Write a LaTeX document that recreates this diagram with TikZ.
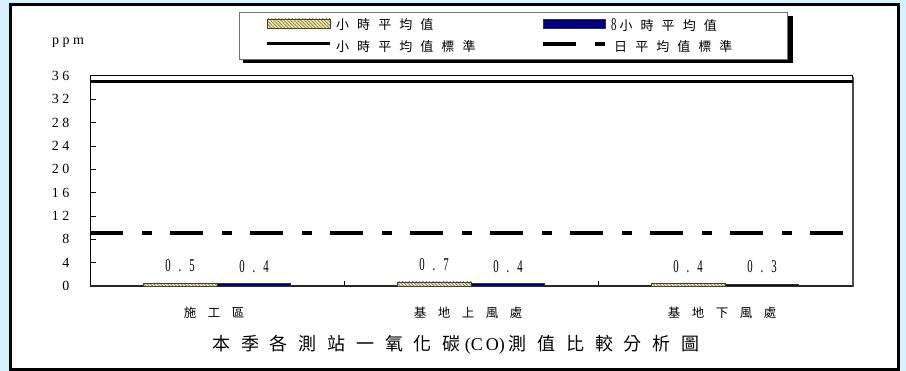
\documentclass[tikz,border=0pt]{standalone}
\usepackage{fontspec}
\usepackage{graphicx}
\setmainfont{Liberation Serif}
\newfontfamily\cjkleg[LetterSpace=62]{Noto Sans CJK TC}
\newfontfamily\cjktitle[LetterSpace=60]{Noto Sans CJK TC}
\newfontfamily\cjkcat[LetterSpace=92]{Noto Sans CJK TC}
\newfontfamily\axfont[LetterSpace=25]{Liberation Serif}
\newfontfamily\narrowfont[FakeStretch=0.6]{Liberation Serif}
\usetikzlibrary{patterns.meta}
\definecolor{bgblue}{RGB}{214,242,252}
\definecolor{hatchfill}{RGB}{240,236,176}
\definecolor{hatchline}{RGB}{130,120,40}
\definecolor{navybar}{RGB}{0,0,128}
\tikzset{
  hatchbar/.style={draw=black!75, line width=0.7, preaction={fill=hatchfill},
    pattern={Lines[angle=-45,distance=2.4pt,line width=0.7pt]}, pattern color=hatchline},
  navybox/.style={draw=black!80, line width=0.7, fill=navybar},
  axlab/.style={font=\axfont\fontsize{14}{14}\selectfont, anchor=east, inner sep=0},
  vallab/.style={font=\narrowfont\fontsize{18}{18}\selectfont, anchor=south, inner sep=0},
  leglab/.style={font=\cjkleg\fontsize{13}{13}\selectfont, anchor=west, inner sep=0},
  catlab/.style={font=\cjkcat\fontsize{12.5}{12.5}\selectfont, inner sep=0},
  dashdot/.style={line width=4, dash pattern=on 33pt off 19pt on 10pt off 18pt},
}
\newcommand{\vals}[2]{#1\hspace{8pt}.\hspace{8pt}#2}
\begin{document}
\begin{tikzpicture}[x=1pt,y=-1pt]
\useasboundingbox (0,0) rectangle (906,371);
\fill[bgblue] (0,0) rectangle (906,371);
\draw[line width=3, fill=white] (10,5) rectangle (898,370);
% legend
\fill[black] (243,16) rectangle (793,63);
\draw[black!55, line width=0.8, fill=white] (239,12) rectangle (787,59);
\draw[hatchbar] (267,19) rectangle (330,28);
\node[leglab] (l1) at (336,25) {小時平均值};
\draw[navybox] (543,19) rectangle (605,28);
\node[leglab] (l2) at (611,25) {{\narrowfont\fontsize{18}{18}\selectfont 8}\hspace{3pt}小時平均值};
\draw[line width=3] (267,44) -- (330,44);
\node[leglab] (l3) at (336,47) {小時平均值標準};
\draw[line width=4] (543,44) -- (576,44);
\draw[line width=4] (595,44) -- (605,44);
\node[leglab] (l4) at (614,47) {日平均值標準};
% ppm
\node[axlab, anchor=west] (ppm) at (52,43) {ppm};
% plot
\coordinate (pll) at (90,286);
\coordinate (pur) at (852,76);
\draw[line width=1] (pll) rectangle (pur);
\draw[line width=1.6, black!85] (90,286) -- (852,286);
\draw[line width=1.2, black!70] (853,77) -- (853,287);
\foreach \v in {0,4,...,36} {
  \node[axlab] (y\v) at (69.5,286-\v*5.8333) {\v};
}
\foreach \v in {4,8,...,32} {
  \draw (90,286-\v*5.8333) -- ++(6,0);
}
\foreach \x in {344,598} {
  \draw (\x,286) -- ++(0,-5);
}
% standard lines
\draw[line width=3] (90,81.8) -- (853,81.8);
\draw[dashdot] (90,233.5) -- (852,233.5);
% bars
\foreach \c/\a/\b/\la/\lb/\ma/\mb [count=\i] in {217/0.5/0.4/0/5/0/4, 471/0.7/0.4/0/7/0/4, 725/0.4/0.3/0/4/0/3} {
  \draw[hatchbar] (\c-74,286) rectangle (\c,286-\a*5.8333);
  \draw[navybox] (\c,286) rectangle (\c+73,286-\b*5.8333);
  \node[vallab] (va\i) at (\c-37,286-\a*5.8333-11) {\vals{\la}{\lb}};
  \node[vallab] (vb\i) at (\c+37,286-\b*5.8333-11) {\vals{\ma}{\mb}};
}
\node[catlab] (c1) at (214,313) {施工區};
\node[catlab] (c2) at (468,313) {基地上風處};
\node[catlab] (c3) at (722,313) {基地下風處};
\node[inner sep=0] (title) at (456,345) {\cjktitle\fontsize{18}{18}\selectfont 本季各測站一氧化碳\hspace{4pt}{\rmfamily\fontsize{18}{18}\selectfont(C\hspace{3pt}O)}\hspace{4pt}測值比較分析圖};
\end{tikzpicture}
\end{document}
